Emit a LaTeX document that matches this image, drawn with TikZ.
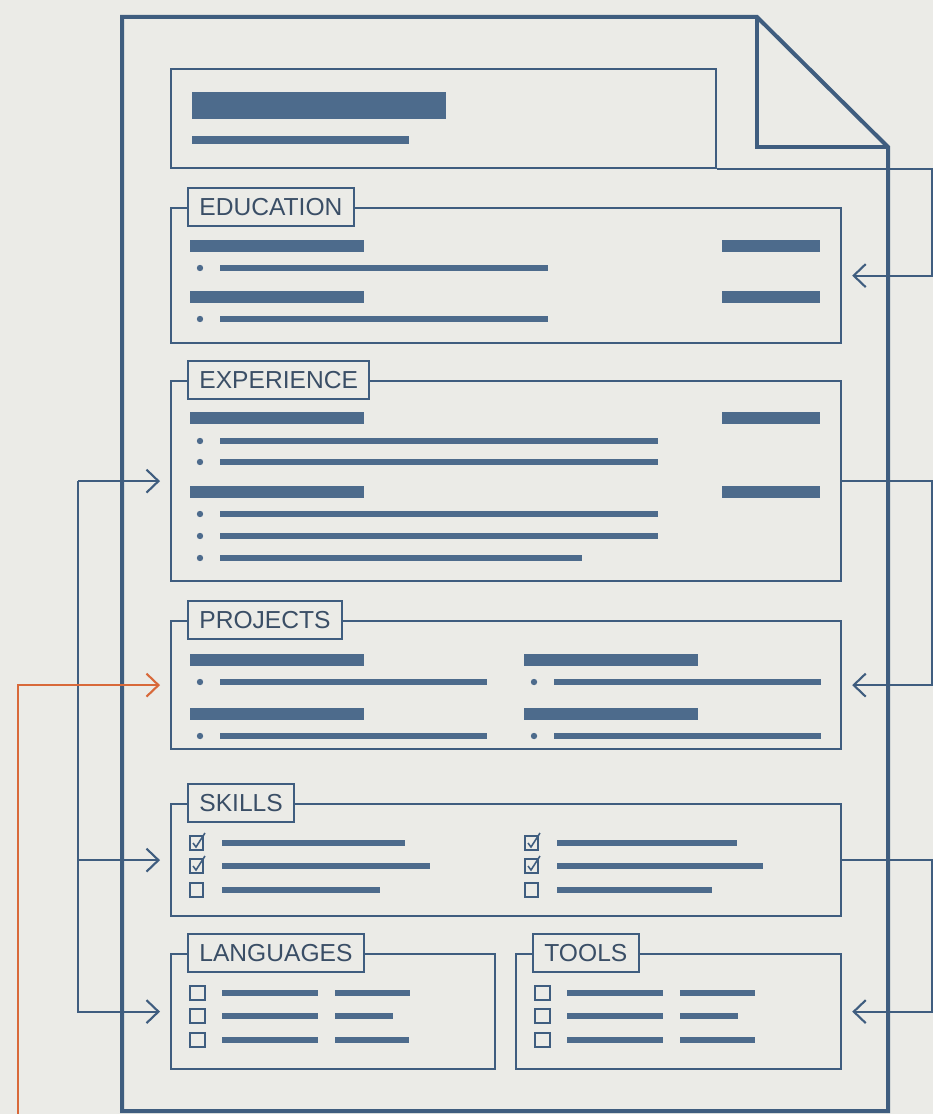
\documentclass[tikz,border=0pt]{standalone}
\usepackage{fontspec}
\setsansfont{Liberation Sans}
\usepackage{tikz}
\usetikzlibrary{arrows.meta, positioning, calc}
\definecolor{cvink}{HTML}{3F5D7F}
\definecolor{cvbar}{HTML}{4D6B8C}
\definecolor{cvtext}{HTML}{3A4E66}
\definecolor{cvpaper}{HTML}{EBEBE7}
\definecolor{cvorange}{HTML}{D8693A}

\begin{document}
\begin{tikzpicture}[x=0.02cm, y=-0.02cm,
  doc/.style={draw=cvink, line width=0.08cm, line join=miter},
  sec/.style={draw=cvink, line width=1.3pt, anchor=north west, inner sep=0pt,
    minimum width=13.4cm},
  tag/.style={draw=cvink, line width=1.1pt, fill=cvpaper, text=cvtext,
    font=\sffamily\fontsize{14}{15}\selectfont, inner xsep=6.5pt, minimum height=0.76cm},
  hbar/.style={draw=cvbar, line width=0.24cm},
  tline/.style={draw=cvbar, line width=0.12cm},
  cbox/.style={draw=cvink, line width=0.9pt},
  link/.style={draw=cvink, line width=1.2pt,
    -{Straight Barb[length=2.4mm, width=4.6mm]}, shorten >=0.2cm},
  olink/.style={link, draw=cvorange}]
  \fill[cvpaper] (0,0) rectangle (933,1114);
  \useasboundingbox (0,0) rectangle (933,1114);

  % the page with its folded corner
  \draw[doc] (122,1111) -- (122,17) -- (757,17) -- (888,147) -- (888,1111) -- cycle;
  \draw[doc] (757,17) -- (757,147) -- (888,147);

  % header
  \node[sec, minimum width=10.9cm, minimum height=1.98cm] (hdr) at (170,68) {};
  \fill[cvbar] (192,92) rectangle (446,119);
  \fill[cvbar] (192,136) rectangle (409,144);

  % sections
  \node[sec, minimum height=2.7cm] (edu) at (170,207) {};
  \node[sec, minimum height=4cm] (exp) at (170,380) {};
  \node[sec, minimum height=2.56cm] (proj) at (170,620) {};
  \node[sec, minimum height=2.24cm] (skl) at (170,803) {};
  \node[sec, minimum width=6.48cm, minimum height=2.3cm] (lang) at (170,953) {};
  \node[sec, minimum width=6.5cm, minimum height=2.3cm] (tool) at (515,953) {};

  \node[tag, right=0.34cm of edu.north west] (edutag) {EDUCATION};
  \node[tag, right=0.34cm of exp.north west] (exptag) {EXPERIENCE};
  \node[tag, right=0.34cm of proj.north west] (projtag) {PROJECTS};
  \node[tag, right=0.34cm of skl.north west] (skltag) {SKILLS};
  \node[tag, right=0.34cm of lang.north west] (langtag) {LANGUAGES};
  \node[tag, right=0.34cm of tool.north west] (tooltag) {TOOLS};

  % education
  \foreach \y in {246,297} {
    \draw[hbar] (190,\y) -- (364,\y);
    \draw[hbar] (722,\y) -- (820,\y);
    \fill[cvbar] (200,\y+22) circle (3.2);
    \draw[tline] (220,\y+22) -- (548,\y+22);
  }
  % experience
  \foreach \y in {418,492} {
    \draw[hbar] (190,\y) -- (364,\y);
    \draw[hbar] (722,\y) -- (820,\y);
  }
  \foreach \y/\e in {441/658, 462/658, 514/658, 536/658, 558/582} {
    \fill[cvbar] (200,\y) circle (3.2);
    \draw[tline] (220,\y) -- (\e,\y);
  }
  % projects
  \foreach \x in {190,524} \foreach \y in {660,714} {
    \draw[hbar] (\x,\y) -- ++(174,0);
    \fill[cvbar] (\x+10,\y+22) circle (3.2);
    \draw[tline] (\x+30,\y+22) -- ++(267,0);
  }
  % skills
  \foreach \x/\y/\e/\c in {190/843/405/1, 190/866/430/1, 190/890/380/0,
                           525/843/737/1, 525/866/763/1, 525/890/712/0} {
    \draw[cbox] (\x,\y-7) rectangle (\x+13,\y+7);
    \ifnum\c=1 \draw[cbox] (\x+3,\y) -- (\x+6,\y+4) -- (\x+15,\y-10); \fi
    \draw[tline] (\x+32,\y) -- (\e,\y);
  }
  % languages and tools
  \foreach \x/\y/\e in {190/993/410, 190/1016/393, 190/1040/409,
                        535/993/755, 535/1016/738, 535/1040/755} {
    \draw[cbox] (\x,\y-7) rectangle (\x+15,\y+7);
    \draw[tline] (\x+32,\y) -- (\x+128,\y);
    \draw[tline] (\x+145,\y) -- (\e,\y);
  }

  % connectors
  \draw[link] (hdr.south east) -- ++(215,0) |- (edu.east);
  \draw[link] (exp.east) -- ++(90,0) |- (proj.east);
  \draw[link] (skl.east) -- ++(90,0) |- (tool.east);
  \coordinate[left=1.84cm of exp.west] (trunk);
  \draw[link] (trunk) -- (exp.west);
  \draw[link] (trunk) |- (skl.west);
  \draw[link] (trunk) |- (lang.west);
  \coordinate (cvsrc) at (18,1114);
  \draw[olink] (cvsrc) |- (proj.west);
\end{tikzpicture}
\end{document}
